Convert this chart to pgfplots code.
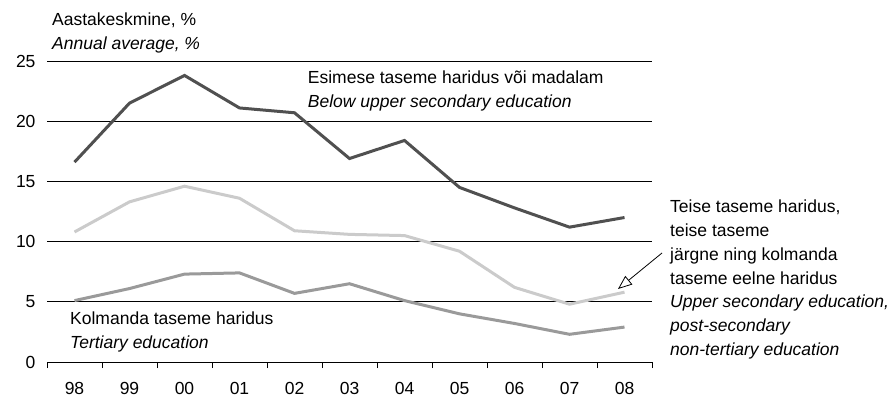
\documentclass[border=0pt]{standalone}
\usepackage{pgfplots}
\pgfplotsset{compat=1.18}
\usepackage{fontspec}
\setmainfont{Liberation Sans}
\usetikzlibrary{arrows.meta}
\definecolor{cdark}{HTML}{505050}
\definecolor{cmid}{HTML}{9A9A9A}
\definecolor{clight}{HTML}{CBCBCB}
\begin{document}
\begin{tikzpicture}
\begin{axis}[
  at={(0,0)}, anchor=south west,
  scale only axis, width=605bp, height=301bp,
  xmin=-0.5, xmax=10.5, ymin=0, ymax=25,
  clip=false,
  axis x line*=bottom,
  axis y line*=left,
  y axis line style={draw=none},
  x axis line style={line width=0.9bp, black},
  xtick={0,1,...,10},
  xticklabels={98,99,00,01,02,03,04,05,06,07,08},
  minor xtick={-0.5,0.5,...,10.5},
  ytick={0,5,...,25},
  major tick length=0pt,
  minor tick length=6bp,
  tick align=outside,
  minor tick style={line width=0.9bp, black},
  ymajorgrids=true,
  grid style={line width=0.9bp, black},
  /pgf/number format/assume math mode=true,
  tick label style={font=\fontsize{17.5bp}{20bp}\selectfont},
  xticklabel style={yshift=-17bp},
  yticklabel style={xshift=-8bp},
]
\addplot[cdark, line width=3bp] coordinates {
 (0,16.6) (1,21.5) (2,23.8) (3,21.1) (4,20.7) (5,16.9) (6,18.4) (7,14.5) (8,12.8) (9,11.2) (10,12.0)};
\addplot[clight, line width=3bp] coordinates {
 (0,10.8) (1,13.3) (2,14.6) (3,13.6) (4,10.9) (5,10.6) (6,10.5) (7,9.2) (8,6.2) (9,4.8) (10,5.8)};
\addplot[cmid, line width=3bp] coordinates {
 (0,5.1) (1,6.1) (2,7.3) (3,7.4) (4,5.7) (5,6.5) (6,5.1) (7,4.0) (8,3.2) (9,2.3) (10,2.9)};
\end{axis}
\begin{scope}[every node/.style={inner sep=0pt, anchor=base west, font=\fontsize{17.5bp}{20bp}\selectfont}]
\node at (5bp,336bp) {Aastakeskmine, \%};
\node at (5bp,312.5bp) {\itshape Annual average, \%};
\node at (260.7bp,278.7bp) {Esimese taseme haridus või madalam};
\node at (260.7bp,254.7bp) {\itshape Below upper secondary education};
\node at (23bp,38bp) {Kolmanda taseme haridus};
\node at (23bp,13.7bp) {\itshape Tertiary education};
\node at (623bp,149.3bp) {Teise taseme haridus,};
\node at (623bp,125.5bp) {teise taseme};
\node at (623bp,101.7bp) {järgne ning kolmanda};
\node at (623bp,77.9bp) {taseme eelne haridus};
\node at (623bp,54.1bp) {\itshape Upper secondary education,};
\node at (623bp,30.3bp) {\itshape post-secondary};
\node at (623bp,6.5bp) {\itshape non-tertiary education};
\end{scope}
\draw[line width=0.8bp, -{Triangle[open, length=14bp, width=11bp, fill=white]}] (615bp,109bp) -- (571bp,73bp);
\pgfresetboundingbox
\path (-47bp,-36bp) rectangle (849bp,362bp);
\end{tikzpicture}
\end{document}
